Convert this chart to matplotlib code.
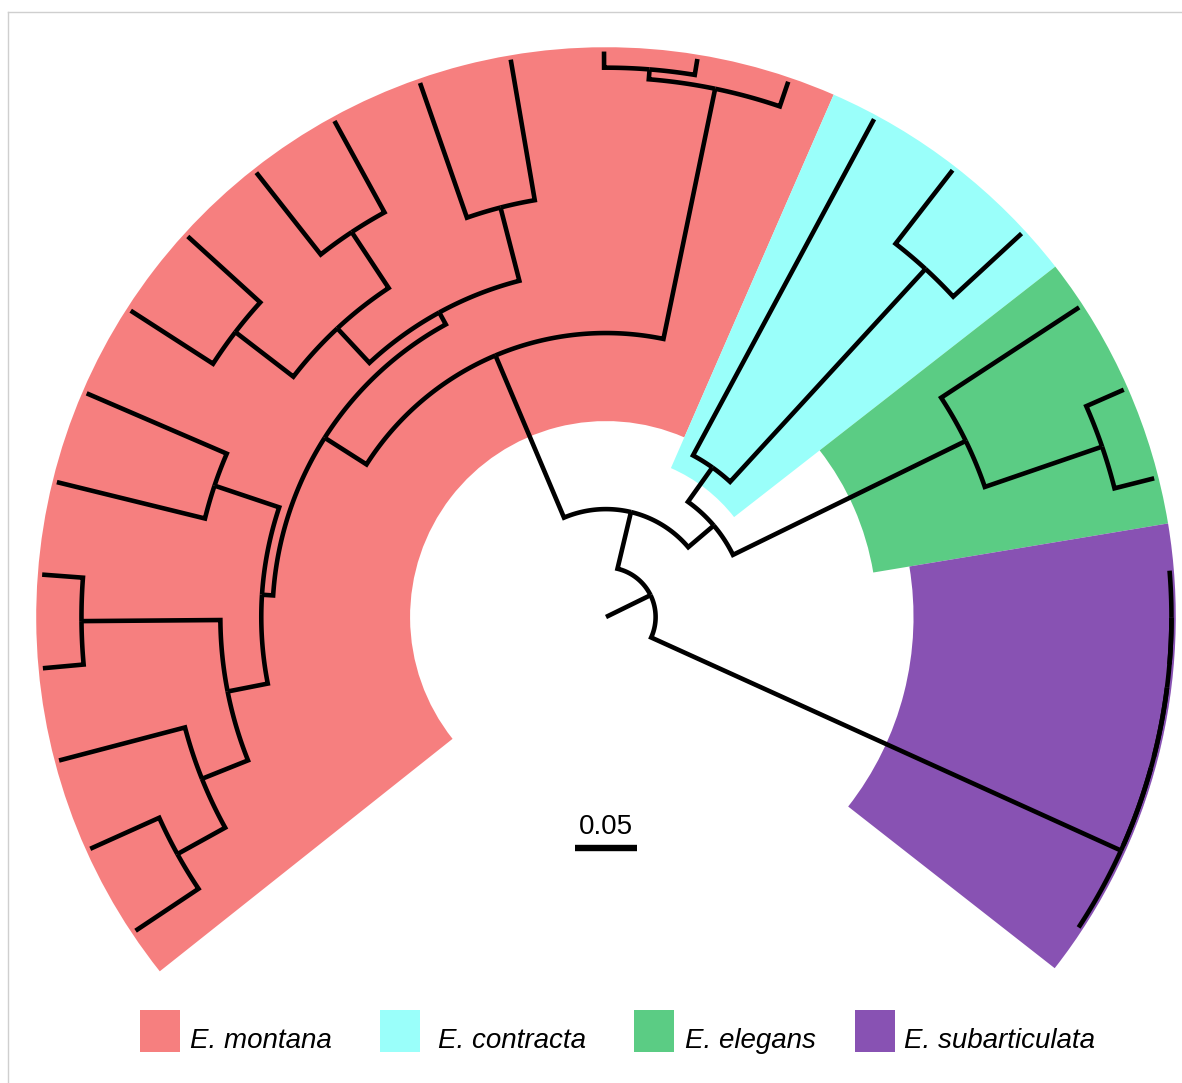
import numpy as np
import matplotlib
matplotlib.use("Agg")
import matplotlib.pyplot as plt
from matplotlib.patches import Wedge, Rectangle
from matplotlib.lines import Line2D

# ---------------- tree data ----------------
# tips listed counter-clockwise, starting at the lower right of the fan
tip_order = ["s5", "s4", "s3", "s2", "s1",
             "e3", "e2", "e1",
             "c3", "c2", "c1",
             "m16", "m15", "m14", "m13", "m12", "m11", "m10", "m09",
             "m08", "m07", "m06", "m05", "m04", "m03", "m02", "m01"]

# node name, parent, distance from the centre (substitutions per site)
node_names = ["root", "n_core", "n_sub", "n_sub2", "n_sub3", "n_sub4",
              "s1", "s2", "s3", "s4", "s5",
              "n_ce", "n_con", "c1", "n_con2", "c2", "c3",
              "n_ele", "e1", "n_ele2", "e2", "e3",
              "n_mon", "n_m1", "n_m1a", "m14", "m15", "m16",
              "n_m2", "n_z", "n_15", "n_13", "n_12", "m01", "m02", "m03",
              "n_45", "m04", "m05", "n_67", "m06", "m07",
              "n_w", "n_v", "n_89", "m08", "m09", "n_1011", "m10", "m11",
              "n_1213", "m12", "m13"]
node_parents = [None, "root", "root", "n_sub", "n_sub2", "n_sub3",
                "n_sub4", "n_sub4", "n_sub3", "n_sub2", "n_sub",
                "n_core", "n_ce", "n_con", "n_con", "n_con2", "n_con2",
                "n_ce", "n_ele", "n_ele", "n_ele2", "n_ele2",
                "n_core", "n_mon", "n_m1", "n_m1a", "n_m1a", "n_m1",
                "n_mon", "n_m2", "n_z", "n_15", "n_13", "n_12", "n_12", "n_13",
                "n_15", "n_45", "n_45", "n_z", "n_67", "n_67",
                "n_m2", "n_w", "n_v", "n_89", "n_89", "n_v", "n_1011", "n_1011",
                "n_w", "n_1213", "n_1213"]
node_depths = [0.040, 0.087, 0.456, 0.456, 0.456, 0.456,
               0.456, 0.456, 0.456, 0.456, 0.456,
               0.114, 0.148, 0.456, 0.381, 0.456, 0.456,
               0.323, 0.456, 0.423, 0.456, 0.456,
               0.229, 0.435, 0.443, 0.456, 0.456, 0.456,
               0.269, 0.278, 0.311, 0.351, 0.395, 0.456, 0.456, 0.456,
               0.423, 0.456, 0.456, 0.333, 0.456, 0.456,
               0.280, 0.318, 0.377, 0.456, 0.456, 0.372, 0.456, 0.456,
               0.341, 0.456, 0.456]

# highlighted clades
clade_labels = ["E. montana", "E. contracta", "E. elegans", "E. subarticulata"]
clade_nodes = ["n_mon", "n_con", "n_ele", "n_sub"]
clade_colors = ["#F67F7F", "#9AFFFA", "#5BCC84", "#8852B3"]

scale_bar_length = 0.05

# ---------------- layout ----------------
FAN_CENTER = 90.2      # degrees
FAN_SPAN = 256.5       # degrees covered by the tips
W_PX, H_PX, DPI = 1182, 1083, 100
PX_PER_UNIT = 1240.0
CX, CY = 606.0, 617.0  # tree centre in pixels (from top-left)

parent = dict(zip(node_names, node_parents))
depth = dict(zip(node_names, node_depths))
children = {n: [] for n in node_names}
for n, p in parent.items():
    if p is not None:
        children[p].append(n)

step = FAN_SPAN / len(tip_order)
angle = {t: FAN_CENTER - FAN_SPAN / 2 + (i + 0.5) * step
         for i, t in enumerate(tip_order)}


def node_angle(n):
    if n not in angle:
        angle[n] = np.mean([node_angle(c) for c in children[n]])
    return angle[n]


for n in node_names:
    node_angle(n)


def tips_of(n):
    if not children[n]:
        return [n]
    out = []
    for c in children[n]:
        out += tips_of(c)
    return out


def polar(r, th):
    t = np.deg2rad(th)
    return r * np.cos(t), r * np.sin(t)


fig = plt.figure(figsize=(W_PX / DPI, H_PX / DPI), dpi=DPI)
ax = fig.add_axes([0, 0, 1, 1])
ax.set_xlim(-CX / PX_PER_UNIT, (W_PX - CX) / PX_PER_UNIT)
ax.set_ylim(-(H_PX - CY) / PX_PER_UNIT, CY / PX_PER_UNIT)
ax.axis("off")

# clade highlights
extend = 0.0035
for node, col in zip(clade_nodes, clade_colors):
    tips = tips_of(node)
    angs = [angle[t] for t in tips]
    r_in = depth[node] - (depth[node] - depth[parent[node]]) / 2
    r_out = max(depth[t] for t in tips) + extend
    ax.add_patch(Wedge((0, 0), r_out, min(angs) - step / 2, max(angs) + step / 2,
                       width=r_out - r_in, facecolor=col, edgecolor="none",
                       linewidth=0, zorder=1))

# branches: arc along the parent radius, then radial out to the node
LW = 3.3
for n in node_names:
    p = parent[n]
    if p is None:
        x, y = polar(np.array([0.0, depth[n]]), angle[n])
        ax.plot(x, y, color="black", lw=LW, solid_capstyle="butt", zorder=3)
        continue
    th = list(np.linspace(angle[p], angle[n], 60)) if abs(angle[n] - angle[p]) > 1e-9 else [angle[n]]
    r = [depth[p]] * len(th)
    if depth[n] - depth[p] > 1e-9:
        th.append(angle[n])
        r.append(depth[n])
    if len(th) < 2:
        continue
    x, y = polar(np.array(r), np.array(th))
    ax.plot(x, y, color="black", lw=LW, solid_capstyle="butt",
            solid_joinstyle="miter", zorder=3)

# scale bar
bar_y = (CY - 848) / PX_PER_UNIT
ax.plot([-scale_bar_length / 2, scale_bar_length / 2], [bar_y, bar_y],
        color="black", lw=4.6, solid_capstyle="butt", zorder=3)
ax.text(0, (CY - 834) / PX_PER_UNIT, f"{scale_bar_length:g}", ha="center",
        va="baseline", fontsize=20, family="Liberation Sans")

# legend
def fx(px):
    return px / W_PX


def fy(py):
    return 1 - py / H_PX


legend_box_x = [140, 380, 634, 855]
legend_text_x = [190, 438, 685, 904]
for lab, col, bx, tx in zip(clade_labels, clade_colors, legend_box_x, legend_text_x):
    fig.add_artist(Rectangle((fx(bx), fy(1052)), 40 / W_PX, 42 / H_PX,
                             transform=fig.transFigure, facecolor=col,
                             edgecolor="none"))
    fig.text(fx(tx), fy(1048), lab, fontsize=20, style="italic",
             family="Liberation Sans", ha="left", va="baseline")

# panel border (top and left)
fig.add_artist(Line2D([fx(8), 1], [fy(12), fy(12)], transform=fig.transFigure,
                      color="#cfcfcf", lw=1))
fig.add_artist(Line2D([fx(8), fx(8)], [fy(12), 0], transform=fig.transFigure,
                      color="#cfcfcf", lw=1))

fig.savefig("out.png", dpi=DPI)
